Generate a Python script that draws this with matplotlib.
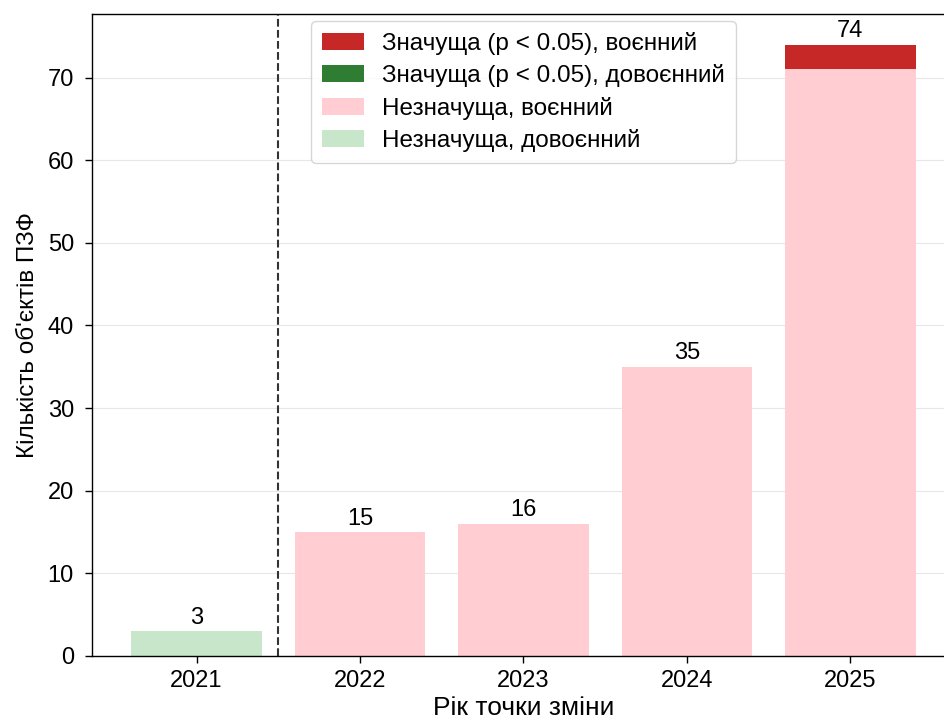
import matplotlib
matplotlib.use("Agg")
import matplotlib.pyplot as plt
import numpy as np

plt.rcParams['font.family'] = ['Liberation Sans', 'DejaVu Sans']

years = ["2021", "2022", "2023", "2024", "2025"]
sig_war = [0, 0, 0, 0, 3]
sig_prewar = [0, 0, 0, 0, 0]
nonsig_war = [0, 15, 16, 35, 71]
nonsig_prewar = [3, 0, 0, 0, 0]

labels = ["Значуща (p < 0.05), воєнний", "Значуща (p < 0.05), довоєнний",
          "Незначуща, воєнний", "Незначуща, довоєнний"]
colors = ["#c62828", "#2e7d32", "#ffcdd2", "#c8e6c9"]

fig = plt.figure(figsize=(9.44, 7.22), dpi=100)
ax = fig.add_axes([92/944, 66/722, (955-92)/944, (656-14)/722])

x = np.arange(len(years))
w = 0.8
b1 = ax.bar(x, nonsig_prewar, w, color=colors[3], label=labels[3])
b2 = ax.bar(x, nonsig_war, w, bottom=nonsig_prewar, color=colors[2], label=labels[2])
base2 = np.array(nonsig_prewar) + np.array(nonsig_war)
b3 = ax.bar(x, sig_prewar, w, bottom=base2, color=colors[1], label=labels[1])
base3 = base2 + np.array(sig_prewar)
b4 = ax.bar(x, sig_war, w, bottom=base3, color=colors[0], label=labels[0])
totals = base3 + np.array(sig_war)

for xi, t in zip(x, totals):
    ax.text(xi, t + 0.3, f"{int(t)}", ha="center", va="bottom", fontsize=17)

ax.axvline(0.5, color="#333333", linestyle="--", linewidth=1.5)
ax.set_xticks(x)
ax.set_xticklabels(years)
ax.tick_params(axis="both", labelsize=17, length=5, width=1.0)
ax.tick_params(axis="x", pad=5)
ax.tick_params(axis="y", pad=8)
for s in ax.spines.values():
    s.set_linewidth(1.0)
ax.set_xlabel("Рік точки зміни", fontsize=19, labelpad=3)
ax.set_ylabel("Кількість об'єктів ПЗФ", fontsize=17.5, labelpad=6)
ax.yaxis.grid(True, alpha=0.3)
ax.set_axisbelow(True)

handles = [b4, b3, b2, b1]
ax.legend(handles, labels, loc="upper center", fontsize=17.5,
          handlelength=1.7, handletextpad=0.75, labelspacing=0.38,
          borderpad=0.45, borderaxespad=0.3)

fig.savefig("out.png", dpi=100)
